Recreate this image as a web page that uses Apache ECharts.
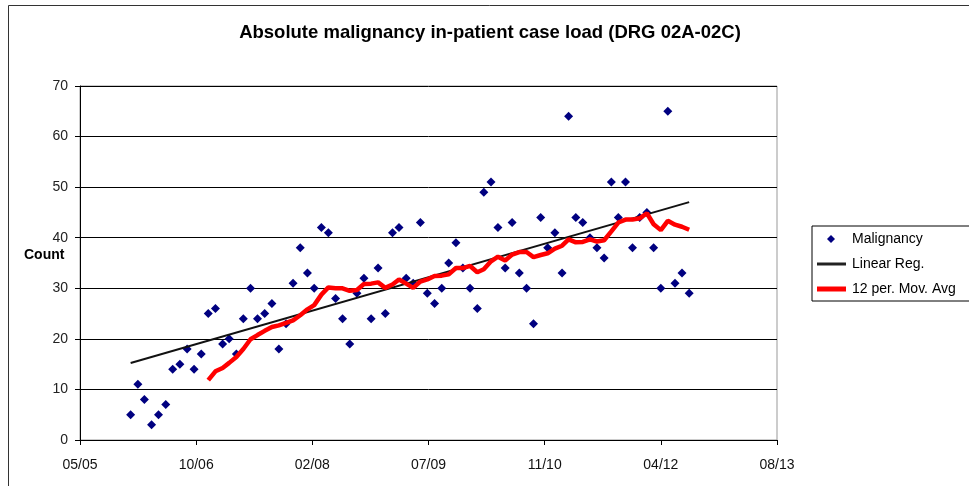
<!DOCTYPE html>
<html>
<head>
<meta charset="utf-8">
<script src="https://cdn.jsdelivr.net/npm/echarts@6/dist/echarts.min.js"></script>
<style>
html, body { margin: 0; padding: 0; background: #fff; }
#chart { width: 969px; height: 486px; }
</style>
</head>
<body>
<div id="chart"></div>
<script>
// monthly counts, first value is Jan 2006
const firstMonth = [2006, 1];
const malignancy = [
  5, 11, 8, 3, 5, 7, 14, 15, 18, 14, 17, 25,
  26, 19, 20, 17, 24, 30, 24, 25, 27, 18, 23, 31,
  38, 33, 30, 42, 41, 28, 24, 19, 29, 32, 24, 34,
  25, 41, 42, 32, 31, 43, 29, 27, 30, 35, 39, 34,
  30, 26, 49, 51, 42, 34, 43, 33, 30, 23, 44, 38,
  41, 33, 64, 44, 43, 40, 38, 36, 51, 44, 51, 38,
  44, 45, 38, 30, 65, 31, 33, 29
];
// x axis runs on excel day numbers, 38500 .. 41500 step 500
const xMin = 38500, xMax = 41500, xStep = 500;
const xTickLabels = ['05/05', '10/06', '02/08', '07/09', '11/10', '04/12', '08/13'];
const yTickLabels = ['0', '10', '20', '30', '40', '50', '60', '70'];
const maPeriod = 12;

function excelDay(y, m) {
  return Date.UTC(y, m - 1, 1) / 86400000 + 25569;
}

const xs = malignancy.map((v, i) => {
  const t = firstMonth[1] - 1 + i;
  return excelDay(firstMonth[0] + Math.floor(t / 12), (t % 12) + 1);
});
const points = malignancy.map((v, i) => [xs[i], v]);

// trendlines like excel draws them
const n = xs.length;
const mx = xs.reduce((a, b) => a + b, 0) / n;
const my = malignancy.reduce((a, b) => a + b, 0) / n;
let sxy = 0, sxx = 0;
for (let i = 0; i < n; i++) {
  sxy += (xs[i] - mx) * (malignancy[i] - my);
  sxx += (xs[i] - mx) * (xs[i] - mx);
}
const slope = sxy / sxx;
const regLine = [xs[0], xs[n - 1]].map(x => [x, my + slope * (x - mx)]);

const movAvg = [];
for (let i = maPeriod - 1; i < n; i++) {
  let s = 0;
  for (let j = i - maPeriod + 1; j <= i; j++) s += malignancy[j];
  movAvg.push([xs[i], s / maPeriod]);
}

const font = 'Liberation Sans, Arial, sans-serif';
const chart = echarts.init(document.getElementById('chart'));
chart.setOption({
  animation: false,
  backgroundColor: '#fff',
  textStyle: { fontFamily: font },
  grid: { left: 80, right: 192, top: 86, bottom: 46, containLabel: false,
    show: true, borderColor: '#999', borderWidth: 1, backgroundColor: 'transparent' },
  graphic: [
    { type: 'rect', shape: { x: 8.5, y: 5.5, width: 1200, height: 600 },
      style: { fill: 'none', stroke: '#333', lineWidth: 1 } },
    { type: 'text', x: 490, y: 33,
      style: { text: 'Absolute malignancy in-patient case load (DRG 02A-02C)',
        font: 'bold 18.5px ' + font, fill: '#000', align: 'center', verticalAlign: 'middle' } },
    { type: 'text', x: 24, y: 255,
      style: { text: 'Count', font: 'bold 14px ' + font, fill: '#000', verticalAlign: 'middle' } }
  ],
  legend: {
    orient: 'vertical', left: 812, top: 226,
    padding: [5, 40, 4, 5],
    borderColor: '#000', borderWidth: 1,
    itemWidth: 30, itemHeight: 8, itemGap: 9,
    symbolKeepAspect: false,
    textStyle: { fontSize: 14, color: '#000', lineHeight: 16, fontFamily: font },
    data: [
      { name: 'Malignancy', icon: 'path://M0,0M30,8M14,0L18,4L14,8L10,4Z' },
      { name: 'Linear Reg.', icon: 'path://M0,0M30,8M0,2.5L29,2.5L29,5.5L0,5.5Z' },
      { name: '12 per. Mov. Avg', icon: 'path://M0,0M30,8M0,1.5L29,1.5L29,6.5L0,6.5Z' }
    ]
  },
  xAxis: {
    type: 'value', min: xMin, max: xMax, interval: xStep,
    axisLine: { lineStyle: { color: '#000', width: 1 } },
    axisTick: { length: 5, lineStyle: { color: '#000' } },
    axisLabel: { fontSize: 14, color: '#111', margin: 18,
      formatter: v => xTickLabels[Math.round((v - xMin) / xStep)] },
    splitLine: { show: false }
  },
  yAxis: {
    type: 'value', min: 0, max: 70, interval: 10,
    axisLine: { show: true, lineStyle: { color: '#000', width: 1 } },
    axisTick: { show: true, length: 5, lineStyle: { color: '#000' } },
    axisLabel: { fontSize: 14, color: '#222', margin: 12,
      formatter: v => yTickLabels[Math.round(v / 10)] },
    splitLine: { lineStyle: { color: '#000', width: 1 } }
  },
  series: [
    {
      name: 'Malignancy', type: 'scatter', data: points,
      symbol: 'diamond', symbolSize: 9,
      itemStyle: { color: '#000080', opacity: 1 }, z: 2
    },
    {
      name: 'Linear Reg.', type: 'line', data: regLine,
      symbol: 'none', lineStyle: { color: '#111', width: 2 },
      itemStyle: { color: '#222' }, z: 3
    },
    {
      name: '12 per. Mov. Avg', type: 'line', data: movAvg,
      symbol: 'none', lineStyle: { color: '#ff0000', width: 4.5 },
      itemStyle: { color: '#ff0000' }, z: 4
    }
  ]
});
</script>
</body>
</html>
